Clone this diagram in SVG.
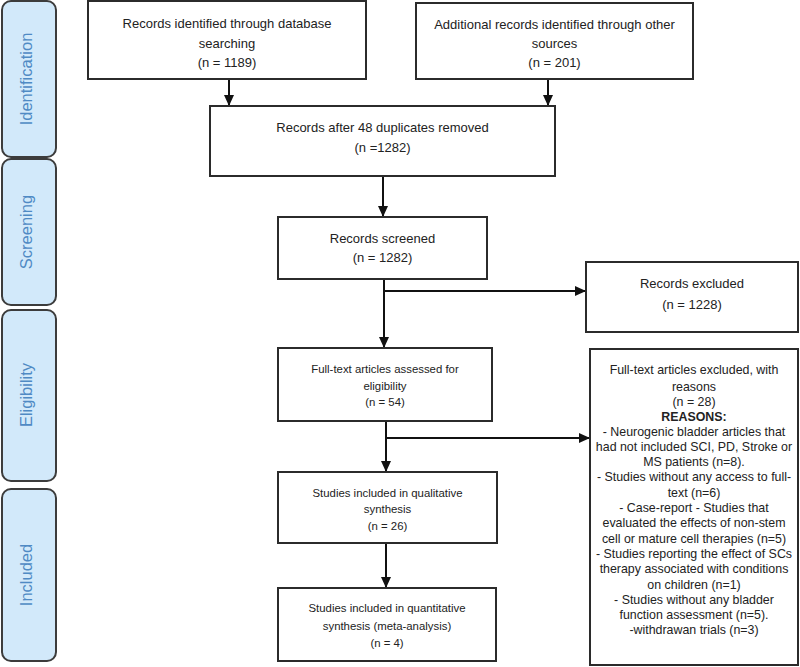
<svg xmlns="http://www.w3.org/2000/svg" width="800" height="667" viewBox="0 0 800 667">
<defs>
<marker id="ah" markerUnits="userSpaceOnUse" markerWidth="12" markerHeight="12" viewBox="0 0 12 12" refX="11" refY="6" orient="auto">
<path d="M0,1 L11,6 L0,11 Z" fill="#111"/>
</marker>
<style>
.tab{fill:#d2e9fa;stroke:#3c3c3c;stroke-width:2}
.tabt{font-family:"Liberation Sans",Arial,sans-serif;font-size:16.5px;fill:#4f8ac4;text-anchor:middle}
.box{fill:#fff;stroke:#2b2b2b;stroke-width:2}
.t{font-family:"Liberation Sans",Arial,sans-serif;font-size:13px;fill:#222;text-anchor:middle}
.s{font-family:"Liberation Sans",Arial,sans-serif;font-size:11.4px;fill:#222;text-anchor:middle}
.r{font-family:"Liberation Sans",Arial,sans-serif;font-size:12.4px;fill:#222;text-anchor:middle}
.c{fill:none;stroke:#111;stroke-width:2}
</style>
</defs>
<rect width="800" height="667" fill="#fff"/>
<g id="tab-identification"><rect class="tab" x="2" y="1" width="54" height="156" rx="9"/><text class="tabt" transform="translate(32,79) rotate(-90)">Identification</text></g>
<g id="tab-screening"><rect class="tab" x="2" y="159" width="54" height="146" rx="9"/><text class="tabt" transform="translate(32,232) rotate(-90)">Screening</text></g>
<g id="tab-eligibility"><rect class="tab" x="2" y="310" width="54" height="171" rx="9"/><text class="tabt" transform="translate(32,395) rotate(-90)">Eligibility</text></g>
<g id="tab-included"><rect class="tab" x="2" y="489" width="54" height="172" rx="9"/><text class="tabt" transform="translate(32,575) rotate(-90)">Included</text></g>

<g id="connectors">
<line class="c" x1="229" y1="79" x2="229" y2="106" marker-end="url(#ah)"/>
<line class="c" x1="548" y1="79" x2="548" y2="106" marker-end="url(#ah)"/>
<line class="c" x1="383" y1="176" x2="383" y2="217" marker-end="url(#ah)"/>
<line class="c" x1="384" y1="279" x2="384" y2="348" marker-end="url(#ah)"/>
<line class="c" x1="384" y1="291" x2="586" y2="291" marker-end="url(#ah)"/>
<line class="c" x1="386" y1="421" x2="386" y2="472" marker-end="url(#ah)"/>
<line class="c" x1="386" y1="438" x2="590" y2="438" marker-end="url(#ah)"/>
<line class="c" x1="386" y1="543" x2="386" y2="588" marker-end="url(#ah)"/>
</g>

<g id="box-database"><rect class="box" x="88" y="1" width="278" height="78"/>
<text class="t" x="227" y="28">Records identified through database</text>
<text class="t" x="227" y="48">searching</text>
<text class="t" x="227" y="67">(n = 1189)</text></g>
<g id="box-other"><rect class="box" x="416" y="3" width="277" height="76"/>
<text class="t" x="554.5" y="29">Additional records identified through other</text>
<text class="t" x="554.5" y="48">sources</text>
<text class="t" x="554.5" y="67">(n = 201)</text></g>
<g id="box-duplicates"><rect class="box" x="210" y="106" width="345" height="70"/>
<text class="t" x="382.5" y="132">Records after 48 duplicates removed</text>
<text class="t" x="382.5" y="152">(n =1282)</text></g>
<g id="box-screened"><rect class="box" x="278" y="217" width="209" height="62"/>
<text class="t" x="382.5" y="243">Records screened</text>
<text class="t" x="382.5" y="262">(n = 1282)</text></g>
<g id="box-excluded"><rect class="box" x="586" y="262" width="212" height="70"/>
<text class="t" x="692" y="288">Records excluded</text>
<text class="t" x="692" y="309">(n = 1228)</text></g>
<g id="box-fulltext"><rect class="box" x="278" y="348" width="214" height="73"/>
<text class="s" x="385" y="373">Full-text articles assessed for</text>
<text class="s" x="385" y="390">eligibility</text>
<text class="s" x="385" y="406">(n = 54)</text></g>
<g id="box-reasons"><rect class="box" x="590" y="349" width="208" height="316"/>
<text class="r" x="694" y="374">Full-text articles excluded, with</text>
<text class="r" x="694" y="391">reasons</text>
<text class="r" x="694" y="406">(n = 28)</text>
<text class="r" x="694" y="421" font-weight="bold">REASONS:</text>
<text class="r" x="694" y="436">- Neurogenic bladder articles that</text>
<text class="r" x="694" y="451">had not included SCI, PD, Stroke or</text>
<text class="r" x="694" y="466">MS patients (n=8).</text>
<text class="r" x="694" y="481">- Studies without any access to full-</text>
<text class="r" x="694" y="497">text (n=6)</text>
<text class="r" x="694" y="512">- Case-report - Studies that</text>
<text class="r" x="694" y="527">evaluated the effects of non-stem</text>
<text class="r" x="694" y="543">cell or mature cell therapies (n=5)</text>
<text class="r" x="694" y="558">- Studies reporting the effect of SCs</text>
<text class="r" x="694" y="573">therapy associated with conditions</text>
<text class="r" x="694" y="589">on children (n=1)</text>
<text class="r" x="694" y="604">- Studies without any bladder</text>
<text class="r" x="694" y="619">function assessment (n=5).</text>
<text class="r" x="694" y="634">-withdrawan trials (n=3)</text></g>
<g id="box-qualitative"><rect class="box" x="278" y="472" width="219" height="71"/>
<text class="s" x="387.5" y="497">Studies included in qualitative</text>
<text class="s" x="387.5" y="513">synthesis</text>
<text class="s" x="387.5" y="530">(n = 26)</text></g>
<g id="box-quantitative"><rect class="box" x="278" y="588" width="218" height="73"/>
<text class="s" x="387" y="612">Studies included in quantitative</text>
<text class="s" x="387" y="630">synthesis (meta-analysis)</text>
<text class="s" x="387" y="647">(n = 4)</text></g>
</svg>
